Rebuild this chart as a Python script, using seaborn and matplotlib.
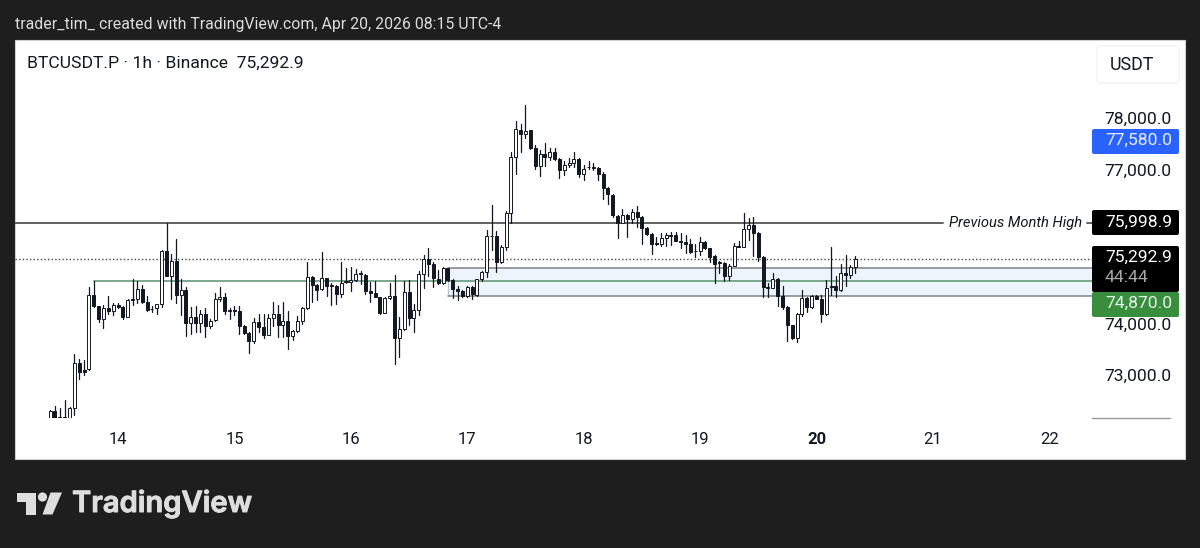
import numpy as np
import pandas as pd
import matplotlib.pyplot as plt
import matplotlib.patheffects as pe
from matplotlib.patches import Rectangle, FancyBboxPatch, Polygon, Circle
from matplotlib.transforms import ScaledTranslation
import seaborn as sns

# hourly candles, hour 0 = Apr 14 00:00
hours = list(range(-14, 153))

opens = [72100, 72321, 72204, 72190, 72100, 72367, 73249, 73118, 73131, 74588, 74373, 74118, 74327, 74281,
         74386, 74346, 74163, 74503, 74503, 74699, 74457, 74320, 74340, 74405, 75457, 74960, 75254, 74588,
         74686, 74046, 74150, 74046, 74216, 73981, 74098, 74503, 74555, 74294, 74294, 74281, 73981, 73837,
         73693, 74052, 73954, 73804, 74144, 74216, 74000, 74085, 73785, 73882, 74085, 74327, 74947, 74784,
         74699, 74915, 74784, 74764, 74601, 74862, 74849, 74889, 75019, 74980, 74666, 74621, 74542, 74242,
         74529, 74568, 73739, 73915, 74653, 74131, 74294, 74993, 75294, 75189, 74902, 74830, 75111, 74882,
         74699, 74666, 74568, 74738, 74588, 74895, 75046, 75751, 75745, 75228, 75535, 76189, 77299, 77822,
         77737, 77815, 77463, 77116, 77345, 77293, 77397, 77254, 77038, 77136, 77175, 77247, 76966, 77103,
         77097, 77084, 76960, 76692, 76548, 76143, 76006, 76156, 76078, 76208, 76117, 75895, 75784, 75601,
         75581, 75699, 75764, 75764, 75640, 75620, 75581, 75457, 75457, 75620, 75503, 75352, 75228, 75215,
         74960, 75163, 75555, 75535, 75875, 75960, 75810, 75333, 74738, 74725, 74908, 74575, 74359, 73994,
         73745, 74216, 74536, 74359, 74575, 74510, 74216, 74771, 74771, 74686, 75019, 74987, 75143]
highs = [72334, 72413, 72367, 72530, 72400, 73432, 73340, 73314, 74738, 74869, 74380, 74392, 74568, 74438,
         74438, 74373, 74510, 74895, 74862, 74784, 74568, 74373, 74412, 75470, 75993, 75385, 75679, 74895,
         74738, 74359, 74373, 74294, 74327, 74111, 74621, 74738, 74621, 74327, 74373, 74373, 74000, 73869,
         74131, 74216, 74216, 74216, 74457, 74392, 74457, 74281, 73902, 74177, 74359, 75241, 74967, 74804,
         75424, 74928, 74817, 74777, 75241, 75111, 75130, 75091, 75065, 75000, 74849, 74862, 74555, 74542,
         74830, 74980, 74150, 74869, 74882, 74405, 75065, 75372, 75503, 75241, 75078, 75143, 75111, 74895,
         74764, 74686, 74764, 74771, 74902, 75065, 75862, 76352, 75843, 75568, 76241, 77384, 78005, 77933,
         78312, 77822, 77528, 77430, 77561, 77476, 77476, 77267, 77215, 77280, 77384, 77267, 77136, 77221,
         77169, 77103, 77005, 76711, 76561, 76156, 76267, 76169, 76267, 76339, 76143, 75914, 75797, 75731,
         75797, 75797, 75829, 75816, 75797, 75764, 75686, 75581, 75731, 75653, 75516, 75372, 75254, 75228,
         75189, 75601, 75653, 76202, 76091, 76110, 75823, 75352, 74817, 75026, 74921, 74764, 74372, 74007,
         74242, 74686, 74555, 74588, 74588, 74588, 74882, 75535, 74960, 75189, 75372, 75176, 75352]
lows = [72050, 72050, 72050, 72050, 72050, 72236, 72948, 73020, 73118, 74359, 74052, 73948, 74216, 74196,
        74327, 74111, 74150, 74392, 74425, 74425, 74281, 74255, 74216, 74359, 74960, 74516, 74425, 74196,
        73785, 73824, 73869, 73869, 73758, 73935, 74085, 74477, 74216, 74124, 74196, 73824, 73824, 73445,
        73641, 73869, 73739, 73800, 73987, 73771, 73771, 73536, 73706, 73869, 74020, 74314, 74457, 74490,
        74686, 74568, 74392, 74412, 74555, 74817, 74666, 74869, 74804, 74608, 74457, 74542, 74216, 74229,
        74516, 73236, 73379, 73902, 74000, 73869, 74196, 74719, 74967, 74738, 74804, 74804, 74869, 74523,
        74490, 74542, 74542, 74510, 74575, 74863, 74947, 75470, 75032, 75209, 75470, 76006, 76960, 77397,
        77672, 77450, 77058, 76927, 77123, 77234, 77234, 76875, 76940, 77103, 77103, 76907, 76842, 77058,
        77038, 76842, 76470, 76365, 76124, 75712, 75993, 75731, 75993, 75928, 75581, 75764, 75392, 75568,
        75555, 75555, 75568, 75646, 75516, 75418, 75418, 75326, 75372, 75483, 75241, 74830, 75026, 74869,
        74882, 75160, 75522, 75522, 75666, 75352, 75261, 74555, 74555, 74719, 74372, 74307, 73693, 73732,
        73660, 74177, 74248, 74327, 74503, 74052, 74196, 74588, 74555, 74666, 74764, 74915, 75026]
closes = [72321, 72100, 72100, 72100, 72367, 73249, 73086, 73086, 74588, 74373, 74118, 74327, 74281, 74392,
          74346, 74163, 74490, 74484, 74699, 74457, 74294, 74307, 74405, 75457, 74967, 75254, 74588, 74686,
          74046, 74150, 74046, 74216, 73981, 74085, 74503, 74555, 74281, 74281, 74281, 73981, 73837, 73693,
          74052, 73954, 73804, 74144, 74216, 74000, 74085, 73785, 73882, 74085, 74327, 74947, 74784, 74686,
          74915, 74764, 74764, 74601, 74817, 74849, 74889, 75000, 75006, 74666, 74627, 74555, 74242, 74523,
          74568, 73739, 73915, 74653, 74131, 74294, 74993, 75294, 75189, 74915, 74830, 75111, 74882, 74699,
          74673, 74568, 74738, 74601, 74895, 75046, 75745, 75738, 75228, 75535, 76202, 77299, 77835, 77744,
          77802, 77463, 77116, 77345, 77293, 77397, 77254, 77038, 77136, 77175, 77247, 76953, 77058, 77090,
          77084, 76953, 76692, 76561, 76156, 76006, 76156, 76078, 76208, 76124, 75895, 75777, 75588, 75588,
          75699, 75764, 75751, 75653, 75620, 75581, 75437, 75444, 75620, 75503, 75339, 75196, 75215, 74960,
          75163, 75555, 75535, 75875, 75960, 75810, 75326, 74738, 74725, 74908, 74575, 74359, 73994, 73745,
          74216, 74536, 74359, 74568, 74510, 74216, 74732, 74738, 74686, 75013, 74980, 75143, 75293]

day_ticks = [0, 24, 48, 72, 96, 120, 144, 168, 192]
day_labels = ['14', '15', '16', '17', '18', '19', '20', '21', '22']
price_ticks = [73000, 74000, 77000, 78000]

prev_month_high = 75998.9
last_price = 75292.9
green_level = 74870.0
zone_top = 75117
zone_bottom = 74573
green_start = -5
zone_start = 68

sns.set_theme(style='white')
plt.rcParams['font.family'] = ['Roboto', 'DejaVu Sans']

ink = '#131722'

fig = plt.figure(figsize=(12, 5.48), dpi=100, facecolor='#1e1e1e')

# pixel canvas for the frame, the price tags and the footer
bg = fig.add_axes([0, 0, 1, 1])
bg.set_xlim(0, 1200)
bg.set_ylim(548, 0)
bg.axis('off')
bg.add_patch(Rectangle((15, 40), 1170, 419, fc='white', ec='#d0d0d0', lw=0.8))

# candle pane, x 15-1092 and y 40-417.5 in pixels
pane = fig.add_axes([15 / 1200, 1 - 417.5 / 548, 1077 / 1200, 377.5 / 548])
pane.patch.set_alpha(0)

wicks = pd.DataFrame({'hour': hours + hours, 'price': highs + lows})
sns.lineplot(data=wicks, x='hour', y='price', units='hour', estimator=None,
             color=ink, lw=0.9, legend=False, ax=pane, zorder=3)

o = np.array(opens)
c = np.array(closes)
body_colors = ['white' if up else ink for up in c >= o]
pane.bar(hours, np.abs(c - o), bottom=np.minimum(o, c), width=0.62, color=body_colors,
         edgecolor=ink, linewidth=0.7, zorder=4)

sns.lineplot(x=[-22, 170], y=[prev_month_high, prev_month_high], color='#555555', lw=1.3, ax=pane, zorder=2)
sns.lineplot(x=[199.8, 201], y=[prev_month_high, prev_month_high], color='#555555', lw=1.3, ax=pane, zorder=2)
pane.axhline(last_price, color='#444444', lw=1.0, ls=(0, (1, 1.6)), zorder=2)
pane.add_patch(Rectangle((zone_start, zone_bottom), 201 - zone_start, zone_top - zone_bottom,
                         fc='#edf4fc', ec='none', zorder=1))
pane.plot([zone_start, zone_start], [zone_bottom, zone_top], color='#b9c6d6', lw=0.9, zorder=1)
pane.plot([zone_start, 201], [zone_top, zone_top], color='#7d8288', lw=1.1, zorder=1)
pane.plot([zone_start, 201], [zone_bottom, zone_bottom], color='#7d8288', lw=1.1, zorder=1)
pane.plot([green_start, 201], [green_level, green_level], color='#6fa383', lw=1.3, zorder=2)

pane.set_xlim(-21.24, 200.8)
pane.set_ylim(72185, 79587)
pane.set_xlabel('')
pane.set_ylabel('')
for side in pane.spines.values():
    side.set_visible(False)

pane.set_xticks(day_ticks)
pane.set_xticklabels(day_labels, fontsize=12, color=ink)
pane.get_xticklabels()[6].set_fontweight('bold')
pane.yaxis.tick_right()
pane.set_yticks(price_ticks)
pane.set_yticklabels([f'{p:,.1f}' for p in price_ticks], fontsize=12.6, color=ink)
pane.tick_params(axis='x', length=0, pad=10.5)
pane.tick_params(axis='y', length=0, pad=8.8)
# the axis nudges its labels up a little
for lab, nudge in zip(pane.get_yticklabels(), [1, 1, 2, 3]):
    lab.set_transform(lab.get_transform() + ScaledTranslation(0, nudge / 100, fig.dpi_scale_trans))

pane.text(171.3, prev_month_high, 'Previous Month High', fontsize=10.6, style='italic',
          color=ink, va='center', ha='left', zorder=5)

# header and legend line
bg.text(15, 24, 'trader_tim_ created with TradingView.com, Apr 20, 2026 08:15 UTC-4',
        fontsize=11.4, color='#dcdcdc', va='center')
bg.text(27, 63, 'BTCUSDT.P · 1h · Binance  75,292.9', fontsize=12.6, color=ink, va='center')

# currency button
bg.add_patch(FancyBboxPatch((1099, 48), 78, 33, boxstyle='round,pad=2,rounding_size=4',
                            fc='white', ec='#f0f0f0', lw=0.8))
bg.text(1110, 64.5, 'USDT', fontsize=12.9, color=ink, va='center')


def price_tag(y0, y1, color):
    bg.add_patch(FancyBboxPatch((1093, y0 + 1), 85, y1 - y0 - 2, boxstyle='round,pad=1,rounding_size=2',
                                fc=color, ec='none', zorder=2))


price_tag(129, 154, '#2962ff')
price_tag(210, 235, '#000000')
price_tag(246, 292, '#000000')
price_tag(292, 317, '#388e3c')
bg.text(1105, 140.5, '77,580.0', fontsize=12.6, color='#e8eeff', va='center', zorder=3)
bg.text(1105, 222, '75,998.9', fontsize=12.6, color='white', va='center', zorder=3)
bg.text(1105, 257, '75,292.9', fontsize=12.6, color='white', va='center', zorder=3)
bg.text(1105, 278, '44:44', fontsize=12.6, color='#a8a8a8', va='center', zorder=3)
bg.text(1105, 303, '74,870.0', fontsize=12.6, color='#e6f2e7', va='center', zorder=3)
bg.plot([1092, 1170], [418, 418], color='#9a9a9a', lw=1.0)

# TradingView logo
logo = '#dedede'
bg.add_patch(Polygon([(17, 492.5), (36, 492.5), (36, 514.5), (26, 514.5), (26, 502), (17, 502)], fc=logo, ec='none'))
bg.add_patch(Circle((42.5, 497), 4.6, fc=logo, ec='none'))
bg.add_patch(Polygon([(50.5, 492.5), (62, 492.5), (52.5, 514.5), (42.5, 514.5)], fc=logo, ec='none'))
bg.text(72, 504, 'TradingView', fontsize=21, fontfamily='Inter', fontweight='semibold', color=logo, va='center',
        path_effects=[pe.withStroke(linewidth=0.7, foreground=logo)])

fig.savefig('out.png', dpi=100, facecolor=fig.get_facecolor())
